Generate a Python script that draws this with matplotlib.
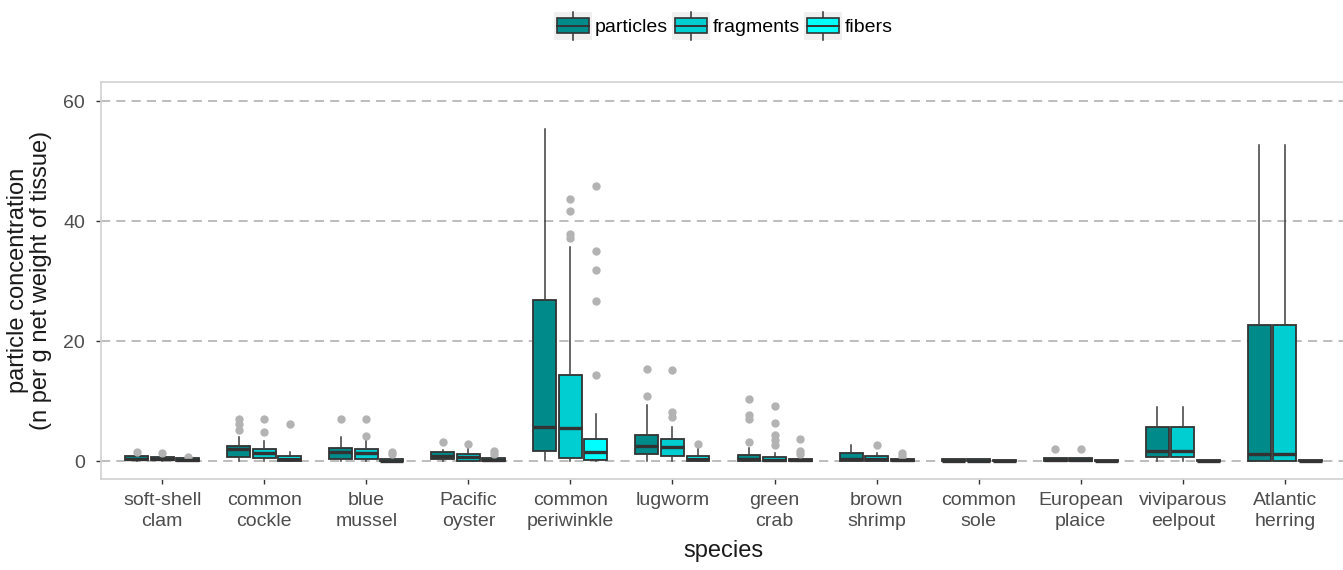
import matplotlib
matplotlib.use("Agg")
import matplotlib.pyplot as plt
from matplotlib.patches import Rectangle, Patch
from matplotlib.lines import Line2D
from matplotlib.legend_handler import HandlerBase

plt.rcParams['font.family'] = ['Liberation Sans', 'DejaVu Sans']

species = ["soft-shell\nclam", "common\ncockle", "blue\nmussel", "Pacific\noyster",
           "common\nperiwinkle", "lugworm", "green\ncrab", "brown\nshrimp",
           "common\nsole", "European\nplaice", "viviparous\neelpout", "Atlantic\nherring"]
series_names = ["particles", "fragments", "fibers"]
series_colors = ["#008B8B", "#00CED1", "#00FFFF"]

# particles
particles_q1 = [0.1, 0.7, 0.35, 0.3, 1.67, 1.1, 0.0, 0.0, 0.0, 0.0, 0.7, 0.05]
particles_med = [0.4, 1.95, 1.45, 0.8, 5.7, 2.5, 0.3, 0.3, 0.05, 0.2, 1.7, 1.15]
particles_q3 = [0.8, 2.55, 2.2, 1.45, 26.9, 4.4, 1.05, 1.4, 0.3, 0.5, 5.6, 22.7]
particles_lo = [0.0, 0.0, 0.0, 0.0, 0.15, 0.0, 0.0, 0.0, 0.0, 0.0, 0.0, 0.0]
particles_hi = [1.0, 3.95, 3.95, 1.8, 55.4, 9.3, 2.1, 2.7, 0.3, 0.5, 9.05, 52.6]
particles_out = [[1.5], [7.0, 6.1, 5.2], [7.0], [3.2], [], [15.3, 10.9],
                 [10.3, 7.6, 7.0, 3.2], [], [], [2.0], [], []]

# fragments
fragments_q1 = [0.1, 0.45, 0.35, 0.05, 0.45, 0.85, 0.0, 0.0, 0.0, 0.0, 0.7, 0.05]
fragments_med = [0.35, 1.4, 1.4, 0.6, 5.45, 2.4, 0.2, 0.3, 0.05, 0.2, 1.7, 1.15]
fragments_q3 = [0.75, 1.95, 2.0, 1.15, 14.3, 3.6, 0.6, 0.85, 0.3, 0.5, 5.6, 22.7]
fragments_lo = [0.0] * 12
fragments_hi = [1.0, 3.4, 3.5, 2.1, 35.6, 5.7, 1.3, 1.3, 0.3, 0.5, 9.05, 52.6]
fragments_out = [[1.3], [7.0, 4.9], [7.0, 4.1], [2.9], [43.6, 41.7, 37.9, 37.1],
                 [15.1, 8.1, 7.4], [9.2, 6.3, 4.3, 3.5, 2.7], [2.7], [], [2.0], [], []]

# fibers
fibers_q1 = [0.0, 0.0, 0.0, 0.0, 0.15, 0.0, 0.0, 0.0, 0.0, 0.0, 0.0, 0.0]
fibers_med = [0.1, 0.35, 0.05, 0.2, 1.55, 0.3, 0.1, 0.1, 0.05, 0.05, 0.05, 0.05]
fibers_q3 = [0.45, 0.85, 0.3, 0.5, 3.6, 0.85, 0.4, 0.3, 0.25, 0.25, 0.25, 0.25]
fibers_lo = [0.0] * 12
fibers_hi = [0.6, 1.45, 0.5, 0.8, 7.9, 2.1, 0.9, 0.5, 0.25, 0.25, 0.25, 0.25]
fibers_out = [[0.7], [6.1], [1.5, 1.1], [1.6, 1.2], [45.8, 35.0, 31.9, 26.6, 14.3],
              [2.9], [3.7, 1.7, 1.2], [1.3, 0.9], [], [], [], []]

yticks = [0, 20, 40, 60]

series_stats = [
    (particles_q1, particles_med, particles_q3, particles_lo, particles_hi, particles_out),
    (fragments_q1, fragments_med, fragments_q3, fragments_lo, fragments_hi, fragments_out),
    (fibers_q1, fibers_med, fibers_q3, fibers_lo, fibers_hi, fibers_out),
]

W, H = 1343, 570
fig = plt.figure(figsize=(W / 100, H / 100), dpi=100)
ax_left, ax_right, ax_top, ax_bottom = 101, 1346, 82, 479
ax = fig.add_axes([ax_left / W, 1 - ax_bottom / H, (ax_right - ax_left) / W, (ax_bottom - ax_top) / H])

EDGE = "#333333"
offsets = [-0.25, 0.0, 0.25]
for s, (q1, med, q3, lo, hi, out) in enumerate(series_stats):
    stats = []
    for i in range(len(species)):
        stats.append(dict(q1=q1[i], med=med[i], q3=q3[i], whislo=lo[i], whishi=hi[i], fliers=out[i]))
    pos = [i + offsets[s] for i in range(len(species))]
    ax.bxp(stats, positions=pos, widths=0.225, patch_artist=True, showcaps=False,
           boxprops=dict(facecolor=series_colors[s], edgecolor=EDGE, linewidth=1.3),
           medianprops=dict(color=EDGE, linewidth=2.4, solid_capstyle='butt'),
           whiskerprops=dict(color="#3d3d3d", linewidth=1.1),
           flierprops=dict(marker='o', markerfacecolor='#b3b3b3', markeredgecolor='#b3b3b3',
                           markersize=5),
           manage_ticks=False, zorder=3)

ax.set_xlim(-0.6, 11.6)
ax.set_ylim(-3.0, 63.17)
ax.set_xticks(range(len(species)))
ax.set_xticklabels(species, fontsize=14, color="#4d4d4d", linespacing=1.3)
ax.set_yticks(yticks)
ax.set_yticklabels([str(v) for v in yticks], fontsize=14, color="#4d4d4d")
ax.tick_params(axis='both', length=3.6, width=1.0, color="#333333")
ax.tick_params(axis='y', pad=8)
ax.tick_params(axis='x', pad=6)

ax.yaxis.grid(True, color="#ababab", linestyle=(0, (6, 4)), linewidth=1.1)
ax.xaxis.grid(False)
ax.set_axisbelow(True)
for sp in ax.spines.values():
    sp.set_color("#d4d4d4")
    sp.set_linewidth(1.3)

ax.set_xlabel("species", fontsize=17, color="#1a1a1a", labelpad=7)
ax.set_ylabel("particle concentration\n(n per g net weight of tissue)", fontsize=17,
              color="#1a1a1a", labelpad=8, linespacing=1.05)


class BoxHandler(HandlerBase):
    def create_artists(self, legend, orig_handle, xdescent, ydescent, width, height, fontsize, trans):
        fc = orig_handle.get_facecolor()
        x0, y0 = -xdescent, -ydescent
        bg = Rectangle((x0, y0), width, height, facecolor="#f0f0f0", edgecolor="none", transform=trans)
        cx = x0 + width / 2
        vline = Line2D([cx, cx], [y0, y0 + height], color=EDGE, lw=1.1, transform=trans)
        box = Rectangle((x0 + 0.08 * width, y0 + 0.24 * height), 0.84 * width, 0.53 * height,
                        facecolor=fc, edgecolor=EDGE, lw=1.2, transform=trans)
        med = Line2D([x0 + 0.08 * width, x0 + 0.92 * width], [y0 + 0.5 * height] * 2,
                     color=EDGE, lw=1.4, transform=trans)
        return [bg, vline, box, med]


handles = [Patch(facecolor=c, label=n) for c, n in zip(series_colors, series_names)]
fig.legend(handles=handles, loc='center', bbox_to_anchor=((ax_left + ax_right) / 2 / W, 1 - 26 / H),
           ncol=3, frameon=False, fontsize=14, handlelength=1.95, handleheight=1.85,
           handletextpad=0.15, columnspacing=0.2, borderpad=0.0,
           handler_map={Patch: BoxHandler()})

fig.savefig("out.png", dpi=100)
